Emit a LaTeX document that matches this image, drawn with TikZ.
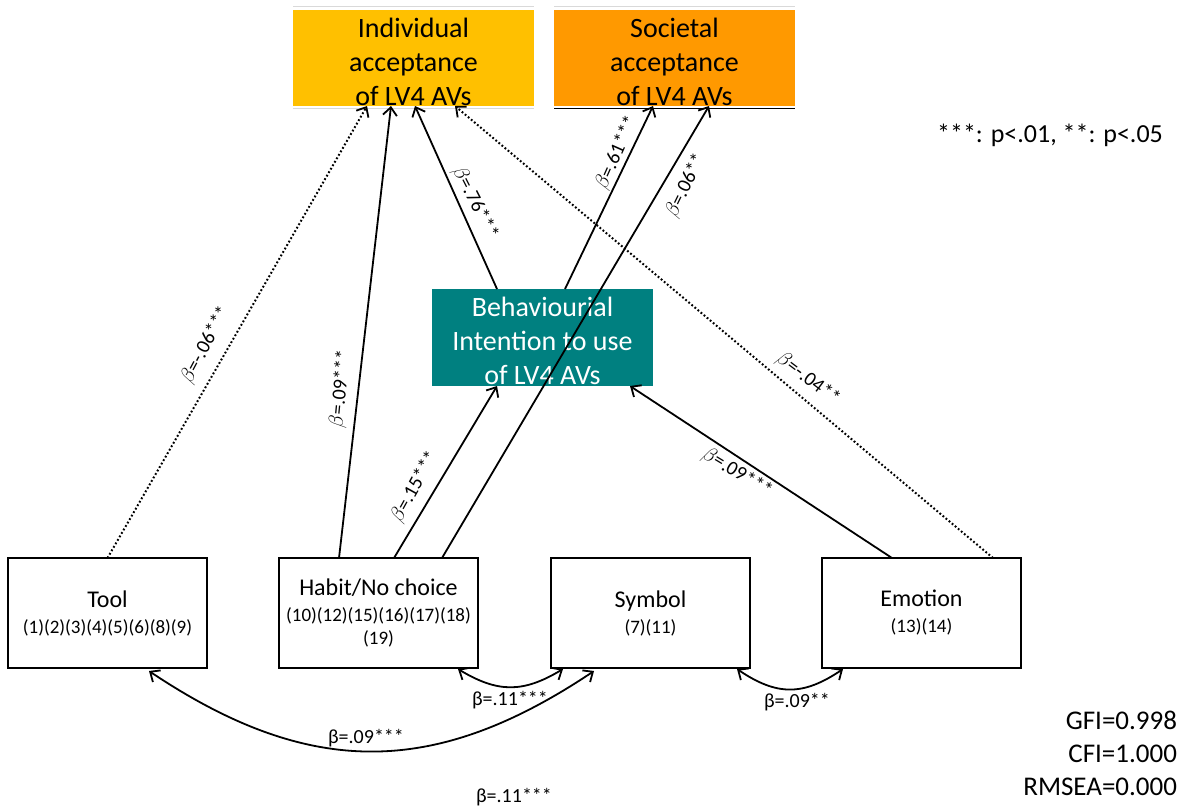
\documentclass[tikz,border=0pt]{standalone}
\usepackage{fontspec}
\setmainfont{Carlito}
\usetikzlibrary{arrows.meta}
\definecolor{indcol}{HTML}{FFC000}
\definecolor{soccol}{HTML}{FF9900}
\definecolor{bicol}{HTML}{008080}
\newcommand{\titlef}{\fontsize{24}{29}\selectfont}
\newcommand{\topstrut}{\rule{0pt}{27pt}}
\begin{document}
\begin{tikzpicture}[x=1pt,y=-1pt,
  every node/.style={inner sep=0pt, outer sep=0pt},
  topbox/.style={minimum width=241pt, minimum height=96pt, align=center, font=\fontsize{28}{34}\selectfont},
  bibox/.style={fill=bicol, text=white, minimum width=221pt, minimum height=97pt, align=center, font=\fontsize{28}{34}\selectfont},
  varbox/.style={draw, line width=1.6pt, minimum width=199pt, minimum height=110pt, align=center, font=\fontsize{19}{23}\selectfont},
  tipv/.tip={Straight Barb[length=8pt,width=14pt,line width=1.8pt]},
  link/.style={line width=1.8pt, -tipv},
  dotlink/.style={link, line width=2pt, dash pattern=on 1.8pt off 2.2pt},
  dlink/.style={line width=1.8pt, tipv-tipv},
  lbl/.style={font=\fontsize{20}{24}\selectfont},
  note/.style={font=\fontsize{27}{33}\selectfont}
]
\useasboundingbox (0,0) rectangle (1182,808);

% boxes
\node[topbox, fill=indcol] (ind) at (413.5,58) {\topstrut Individual\\acceptance\\of LV4 AVs};
\node[topbox, fill=soccol] (soc) at (674.5,58) {\topstrut Societal\\acceptance\\of LV4 AVs};
\node[bibox] (bi) at (542.5,337.5) {\topstrut Behaviourial\\Intention to use\\of LV4 AVs};
\node[varbox] (tool) at (107.5,613) {{\titlef Tool}\\[3pt](1)(2)(3)(4)(5)(6)(8)(9)};
\node[varbox] (habit) at (378.5,613) {{\titlef Habit/No choice}\\[3pt](10)(12)(15)(16)(17)(18)\\(19)};
\node[varbox] (sym) at (650.5,613) {{\titlef Symbol}\\[3pt](7)(11)};
\node[varbox] (emo) at (921.5,613) {{\titlef Emotion}\\[3pt](13)(14)};

% thin border lines of the top boxes
\draw[gray!30, line width=1pt] ([yshift=3pt]ind.north west) -- ([yshift=3pt]ind.north east);
\draw[gray!30, line width=1pt] ([yshift=3pt]soc.north west) -- ([yshift=3pt]soc.north east);
\draw[gray!30, line width=1pt] ([yshift=-2pt]ind.south west) -- ([yshift=-2pt]ind.south east);
\draw[black, line width=1pt] ([yshift=-2pt]soc.south west) -- ([yshift=-2pt]soc.south east);

% straight connectors
\draw[dotlink] (tool.north) -- ([xshift=-46.5pt]ind.south);
\draw[link] ([xshift=-39.5pt]habit.north) -- ([xshift=-22.5pt]ind.south);
\draw[link] ([xshift=15.5pt]habit.north) -- ([xshift=-45.5pt]bi.south);
\draw[link] ([xshift=63.5pt]habit.north) -- ([xshift=34.5pt]soc.south);
\draw[link] ([xshift=-45.5pt]bi.north) -- ([xshift=1.5pt]ind.south);
\draw[link] ([xshift=22.5pt]bi.north) -- ([xshift=-21.5pt]soc.south);
\draw[link] ([xshift=-29.5pt]emo.north) -- ([xshift=87.5pt]bi.south);
\draw[dotlink] ([xshift=71.5pt]emo.north) -- ([xshift=41.5pt]ind.south);

% curved correlations
\draw[dlink] ([xshift=41.5pt,yshift=-3pt]tool.south) .. controls +(160,107) and +(-160,107) .. ([xshift=-56.5pt,yshift=-3pt]sym.south);
\draw[dlink] ([xshift=79.5pt,yshift=-1pt]habit.south) .. controls +(40,24) and +(-40,24) .. ([xshift=-87.5pt,yshift=-1pt]sym.south);
\draw[dlink] ([xshift=86.5pt,yshift=-1pt]sym.south) .. controls +(40,27) and +(-40,27) .. ([xshift=-78.5pt,yshift=-1pt]emo.south);

% path labels
\node[lbl, rotate=62] (l1) at (206,345) {$\beta$=-.06***};
\node[lbl, rotate=84.5] (l2) at (341,389) {$\beta$=.09***};
\node[lbl, rotate=61] (l3) at (415,487) {$\beta$=.15***};
\node[lbl, rotate=-63] (l4) at (475,203) {$\beta$=.76***};
\node[lbl, rotate=66] (l5) at (617,153) {$\beta$=.61***};
\node[lbl, rotate=64] (l6) at (686,186) {$\beta$=.06**};
\node[lbl, rotate=-31] (l7) at (737,473) {$\beta$=.09***};
\node[lbl, rotate=-37] (l8) at (808,379) {$\beta$=-.04**};
\node[lbl] (l9) at (366,738) {β=.09***};
\node[lbl] (l10) at (510,700) {β=.11***};
\node[lbl] (l11) at (797,702) {β=.09**};
\node[lbl] (l12) at (514,797) {β=.11***};

% notes
\node[font=\fontsize{26}{30}\selectfont] (sig) at (1050,135) {***: p<.01, **: p<.05};
\node[note, align=right, anchor=east] (fit) at (1177,753) {GFI=0.998\\CFI=1.000\\RMSEA=0.000};
\end{tikzpicture}
\end{document}
